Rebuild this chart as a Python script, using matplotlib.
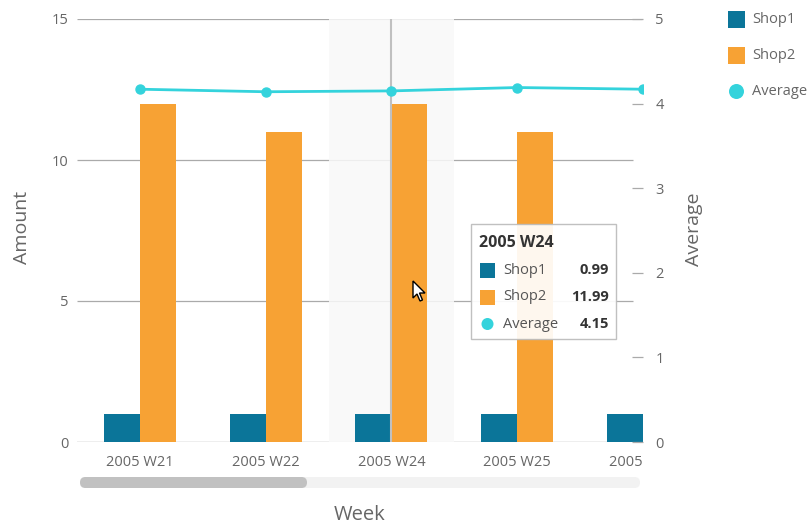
import matplotlib.pyplot as plt
import numpy as np
from matplotlib.patches import Rectangle, FancyBboxPatch, Circle, Polygon
from matplotlib.transforms import Bbox, TransformedBbox

plt.rcParams['font.family'] = ['Open Sans', 'DejaVu Sans']

# Data
weeks = ['2005 W21', '2005 W22', '2005 W24', '2005 W25', '2005 W26']
shop1 = [0.99, 0.99, 0.99, 0.99, 0.99]
shop2 = [11.99, 10.99, 11.99, 10.99, 11.99]
average = [4.17, 4.14, 4.15, 4.19, 4.17]
hover_idx = 2

c_shop1 = '#0b7599'
c_shop2 = '#f7a234'
c_avg = '#34d3dc'
grey_txt = '#666666'

W, H = 810, 528
fig = plt.figure(figsize=(W / 100, H / 100), dpi=100)
fig.patch.set_facecolor('white')

# main plot area (pixel box 77..643 x 19..442)
ax = fig.add_axes([77 / W, (H - 442) / H, 566 / W, 423 / H])
ax2 = ax.twinx()

x = np.arange(len(weeks))
bw = 0.286
ax.bar(x - bw / 2, shop1, bw, color=c_shop1, zorder=3)
ax.bar(x + bw / 2, shop2, bw, color=c_shop2, zorder=3)
ax.set_xlim(-0.5, 3.99)
ax.set_ylim(0, 15)
ax.set_yticks([0, 5, 10, 15])
ax.set_xticks(x)
ax.set_xticklabels(weeks)

# gridlines
ax.hlines([5, 10], -0.5, 3.92, color='#aaaaaa', lw=0.9, zorder=1)
ax.hlines([15], -0.5, 3.99, color='#aaaaaa', lw=0.9, zorder=1)
ax.axhline(0, color='#aaaaaa', lw=1.0, zorder=1)

# hover band and crosshair
ax.axvspan(hover_idx - 0.5, hover_idx + 0.5, color='#f9f9f9', alpha=0.85, zorder=2, lw=0)
ax.axvline(hover_idx, color='#c0c0c0', lw=1.5, zorder=5)

for s in ax.spines.values():
    s.set_visible(False)
for s in ax2.spines.values():
    s.set_visible(False)
ax.tick_params(axis='both', length=0, colors=grey_txt, labelsize=10.5)
ax.tick_params(axis='y', pad=6)
ax.tick_params(axis='x', pad=9)

# last category label is cut at the plot's right edge
clip = TransformedBbox(Bbox([[0, 0], [644 / W, 1]]), fig.transFigure)
for lab in ax.get_xticklabels():
    lab.set_clip_on(True)
    lab.set_clip_box(clip)

ax2.plot(x, average, color=c_avg, lw=2, marker='o', ms=6.5, zorder=6)
ax2.set_ylim(0, 5)
ax2.set_yticks([0, 1, 2, 3, 4, 5])
ax2.tick_params(axis='y', direction='in', length=8, width=0.9, color='#aaaaaa',
                colors=grey_txt, labelsize=10.5, pad=9)
ax2.tick_params(axis='y', which='major', color='#aaaaaa')
ax.set_zorder(1)
ax2.set_zorder(2)
ax2.patch.set_visible(False)

# overlay for chart furniture, drawn in pixel coordinates
ov = fig.add_axes([0, 0, 1, 1], zorder=10)
ov.set_xlim(0, W)
ov.set_ylim(H, 0)
ov.axis('off')
ov.patch.set_visible(False)

# axis titles
ov.text(22, 227, 'Amount', rotation=90, ha='center', va='center', fontsize=14, color=grey_txt)
ov.text(694, 229, 'Average', rotation=90, ha='center', va='center', fontsize=14, color=grey_txt)
ov.text(360, 515, 'Week', ha='center', va='center', fontsize=14.5, color=grey_txt)

# scrollbar
ov.add_patch(FancyBboxPatch((80, 477), 560, 11, boxstyle='round,pad=0,rounding_size=5.5',
                            fc='#f2f2f2', ec='none'))
ov.add_patch(FancyBboxPatch((80, 477), 227, 11, boxstyle='round,pad=0,rounding_size=5.5',
                            fc='#c1c1c1', ec='none'))

# legend
leg = [('Shop1', c_shop1, 's'), ('Shop2', c_shop2, 's'), ('Average', c_avg, 'o')]
for i, (lab, col, kind) in enumerate(leg):
    yc = 19.5 + i * 36
    if kind == 's':
        ov.add_patch(Rectangle((728, yc - 8.5), 17, 17, fc=col, ec='none'))
    else:
        ov.add_patch(Circle((736.5, yc), 7.5, fc=col, ec='none'))
    ov.text(752, yc, lab, ha='left', va='center', fontsize=10.5, color=grey_txt)

# tooltip
ov.add_patch(Rectangle((471, 224), 145, 115, fc='white', ec='#bbbbbb', lw=1, alpha=0.92))
ov.text(479, 243, weeks[hover_idx], ha='left', va='center', fontsize=11.5,
        fontweight='bold', color='#333333')
rows = [('Shop1', shop1[hover_idx], c_shop1, 's'),
        ('Shop2', shop2[hover_idx], c_shop2, 's'),
        ('Average', average[hover_idx], c_avg, 'o')]
for i, (lab, val, col, kind) in enumerate(rows):
    yc = 270 + i * 27
    if kind == 's':
        ov.add_patch(Rectangle((480, yc - 7.5), 15, 15, fc=col, ec='none'))
    else:
        ov.add_patch(Circle((487.5, yc), 6, fc=col, ec='none'))
    ov.text(503, yc, lab, ha='left', va='center', fontsize=10.5, color='#555555')
    ov.text(609, yc, f'{val:.2f}', ha='right', va='center', fontsize=10.5,
            fontweight='bold', color='#333333')

# mouse pointer
tip = np.array([413, 281])
arrow = np.array([[0, 0], [0, 17], [4, 13], [7, 20], [9.5, 19], [6.5, 12], [12, 12]]) + tip
ov.add_patch(Polygon(arrow, closed=True, fc='white', ec='black', lw=1))

plt.savefig('out.png', dpi=100, facecolor='white')
